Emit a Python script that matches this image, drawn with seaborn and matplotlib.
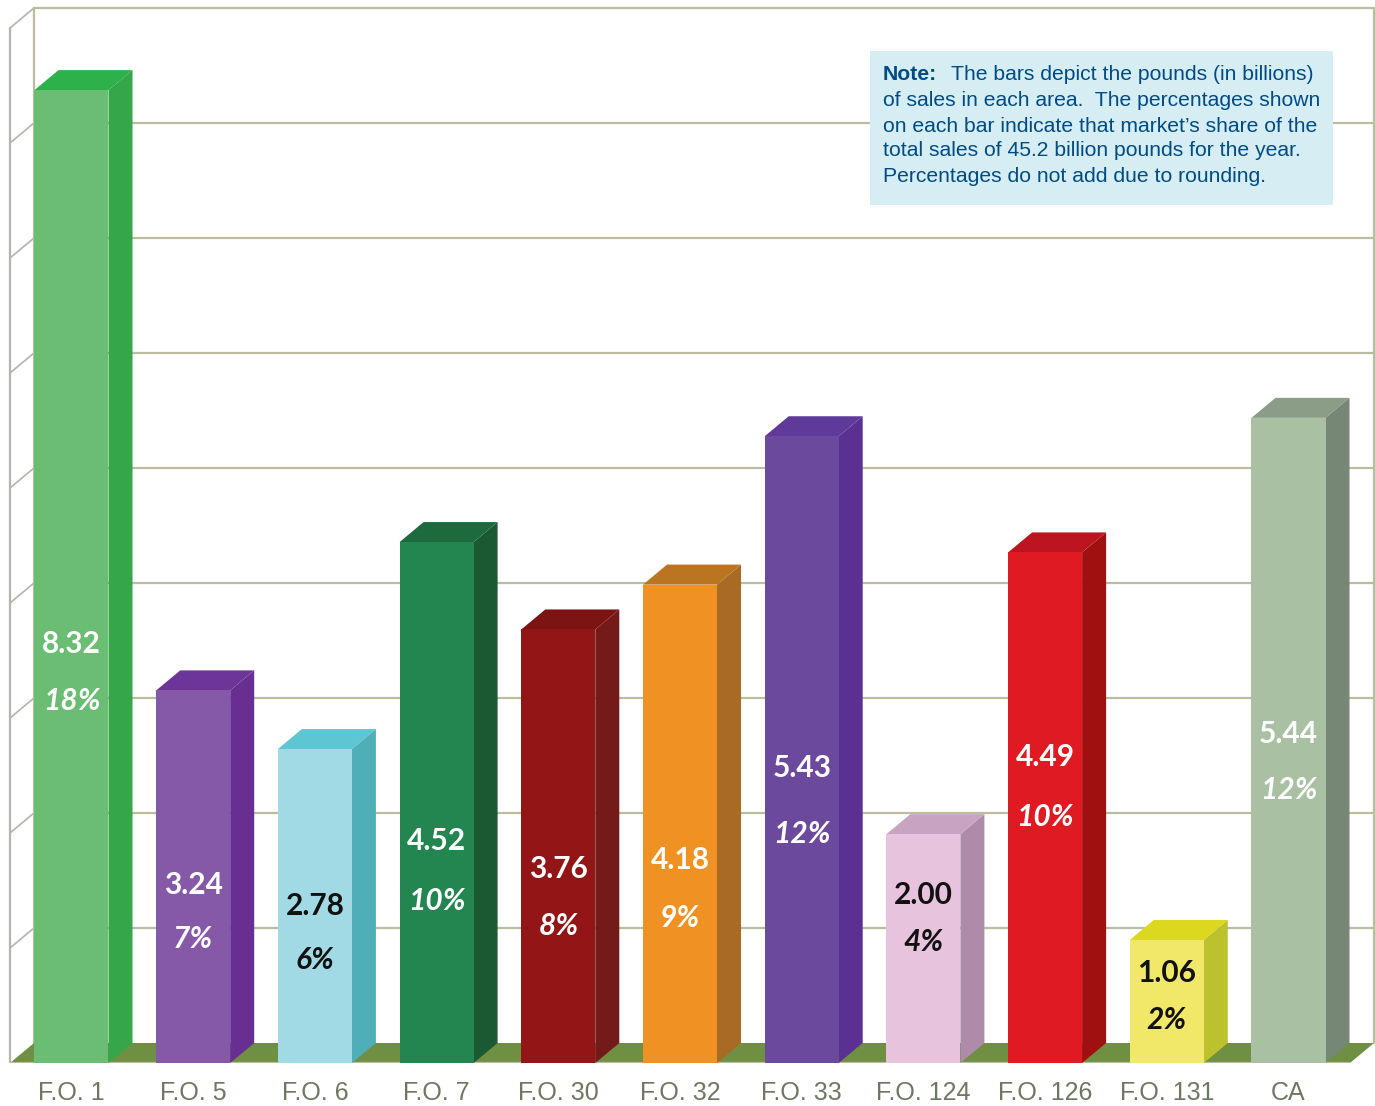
import matplotlib
matplotlib.use("Agg")
import matplotlib.pyplot as plt
from matplotlib.patches import Polygon, Rectangle
import seaborn as sns

# ---- data ----
offices = ["F.O. 1", "F.O. 5", "F.O. 6", "F.O. 7", "F.O. 30", "F.O. 32", "F.O. 33",
           "F.O. 124", "F.O. 126", "F.O. 131", "CA"]
value_labels = ["8.32", "3.24", "2.78", "4.52", "3.76", "4.18", "5.43", "2.00", "4.49", "1.06", "5.44"]
share_labels = ["18%", "7%", "6%", "10%", "8%", "9%", "12%", "4%", "10%", "2%", "12%"]
bar_heights = [8.46, 3.24, 2.73, 4.53, 3.77, 4.16, 5.45, 1.99, 4.44, 1.07, 5.61]

# ---- styles ----
front_colors = ["#6bbd73", "#8559a8", "#a1dae5", "#23854f", "#931516", "#ef9223",
                "#6b4a9e", "#e7c3de", "#df1a23", "#f1e768", "#a9c1a2"]
side_colors = ["#35a64a", "#672f92", "#4fafb9", "#1a5931", "#741a18", "#a86a24",
               "#5a3192", "#ae8ba8", "#a01010", "#bcc22e", "#768775"]
top_colors = ["#2eb04a", "#6d3598", "#5ec6d2", "#1e6a3f", "#7d1414", "#bb7420",
              "#5f3a9b", "#c8a3c2", "#bc1520", "#dcd81f", "#8b9d87"]
text_colors = ["white", "white", "#111111", "white", "white", "white",
               "white", "#111111", "white", "#111111", "white"]
value_label_py = [644, 885, 906, 841, 869, 860, 768, 895, 757, 973, 734]
share_label_py = [701, 939, 960, 901, 926, 918, 834, 942, 817, 1020, 790]

W, H = 1375, 1106
X0, STEP, Y0, UNIT = 71.5, 121.7, 1063, 115.0
DX, DY = 24 / STEP, 20 / UNIT
GRID = "#bcbca0"
WALL = "#b4b4ac"

sns.set_theme(style="white")
fig = plt.figure(figsize=(W / 100, H / 100), dpi=100, facecolor="white")
ax = fig.add_axes([0, (H - Y0) / H, 1, Y0 / H])


def px(x):
    return (x - X0) / STEP


def py(y):
    return (Y0 - y) / UNIT


sns.barplot(x=offices, y=bar_heights, hue=offices, palette=front_colors, legend=False,
            saturation=1, width=74 / STEP, linewidth=0, ax=ax, zorder=5)
ax.set_xlim(px(0), px(W))
ax.set_ylim(0, py(0))
for s in ax.spines.values():
    s.set_visible(False)
ax.set_yticks([])
ax.tick_params(axis="x", length=0, pad=13)
for t in ax.get_xticklabels():
    t.set_family("Liberation Sans")
    t.set_fontsize(18)
    t.set_color("#6d7860")

# back wall, side wall and floor
x_back, x_left, x_right = px(34), px(10), px(1374)
for k in range(1, 10):
    ax.plot([x_back, x_right], [k + DY, k + DY], color=GRID, lw=1.6, zorder=1)
    ax.plot([x_left, x_back], [k, k + DY], color=WALL, lw=1.2, zorder=1)
ax.plot([x_back, x_back], [DY, 9 + DY], color=GRID, lw=1.6, zorder=1)
ax.plot([x_right, x_right], [DY, 9 + DY], color=GRID, lw=1.6, zorder=1)
ax.plot([x_left, x_left], [0, 9], color=WALL, lw=1.6, zorder=1)
ax.add_patch(Polygon([(x_left, 0), (x_back, DY), (x_right, DY), (x_right - DX, 0)],
                     closed=True, facecolor="#6f8f43", edgecolor="none", zorder=2))
ax.plot([x_left, x_right - DX], [0, 0], color=GRID, lw=1.6, zorder=3)

# bar depth, derived from the bars seaborn drew
for i, bar in enumerate(ax.patches[:len(offices)]):
    x1 = bar.get_x() + bar.get_width()
    x0 = bar.get_x()
    h = bar.get_height()
    ax.add_patch(Polygon([(x1, 0), (x1 + DX, DY), (x1 + DX, h + DY), (x1, h)], closed=True,
                         facecolor=side_colors[i], edgecolor="none", zorder=4))
    ax.add_patch(Polygon([(x0, h), (x0 + DX, h + DY), (x1 + DX, h + DY), (x1, h)], closed=True,
                         facecolor=top_colors[i], edgecolor="none", zorder=4))
    ax.text(i, py(value_label_py[i]), value_labels[i], ha="center", va="center", color=text_colors[i],
            family="Lato", weight="bold", fontsize=21.5, zorder=6)
    ax.text(i, py(share_label_py[i]), share_labels[i], ha="center", va="center", color=text_colors[i],
            family="Lato", weight="bold", style="italic", fontsize=21.5, zorder=6)

# note box
ax.add_patch(Rectangle((px(870), py(205)), px(1333) - px(870), py(51) - py(205),
                       facecolor="#d5edf3", edgecolor="none", zorder=7))
note_lines = ["The bars depict the pounds (in billions)",
              "of sales in each area.  The percentages shown",
              "on each bar indicate that market\u2019s share of the",
              "total sales of 45.2 billion pounds for the year.",
              "Percentages do not add due to rounding."]
note_py = [75, 101, 126, 151, 176]
note_px = [951, 883, 883, 883, 883]
ax.text(px(883), py(75), "Note:", family="Liberation Sans", weight="bold", color="#004b84",
        fontsize=15.2, va="center", ha="left", zorder=8)
for line, yy, xx in zip(note_lines, note_py, note_px):
    ax.text(px(xx), py(yy), line, family="Liberation Sans", color="#004b84",
            fontsize=15.2, va="center", ha="left", zorder=8)

fig.savefig("out.png", dpi=100, facecolor="white")
